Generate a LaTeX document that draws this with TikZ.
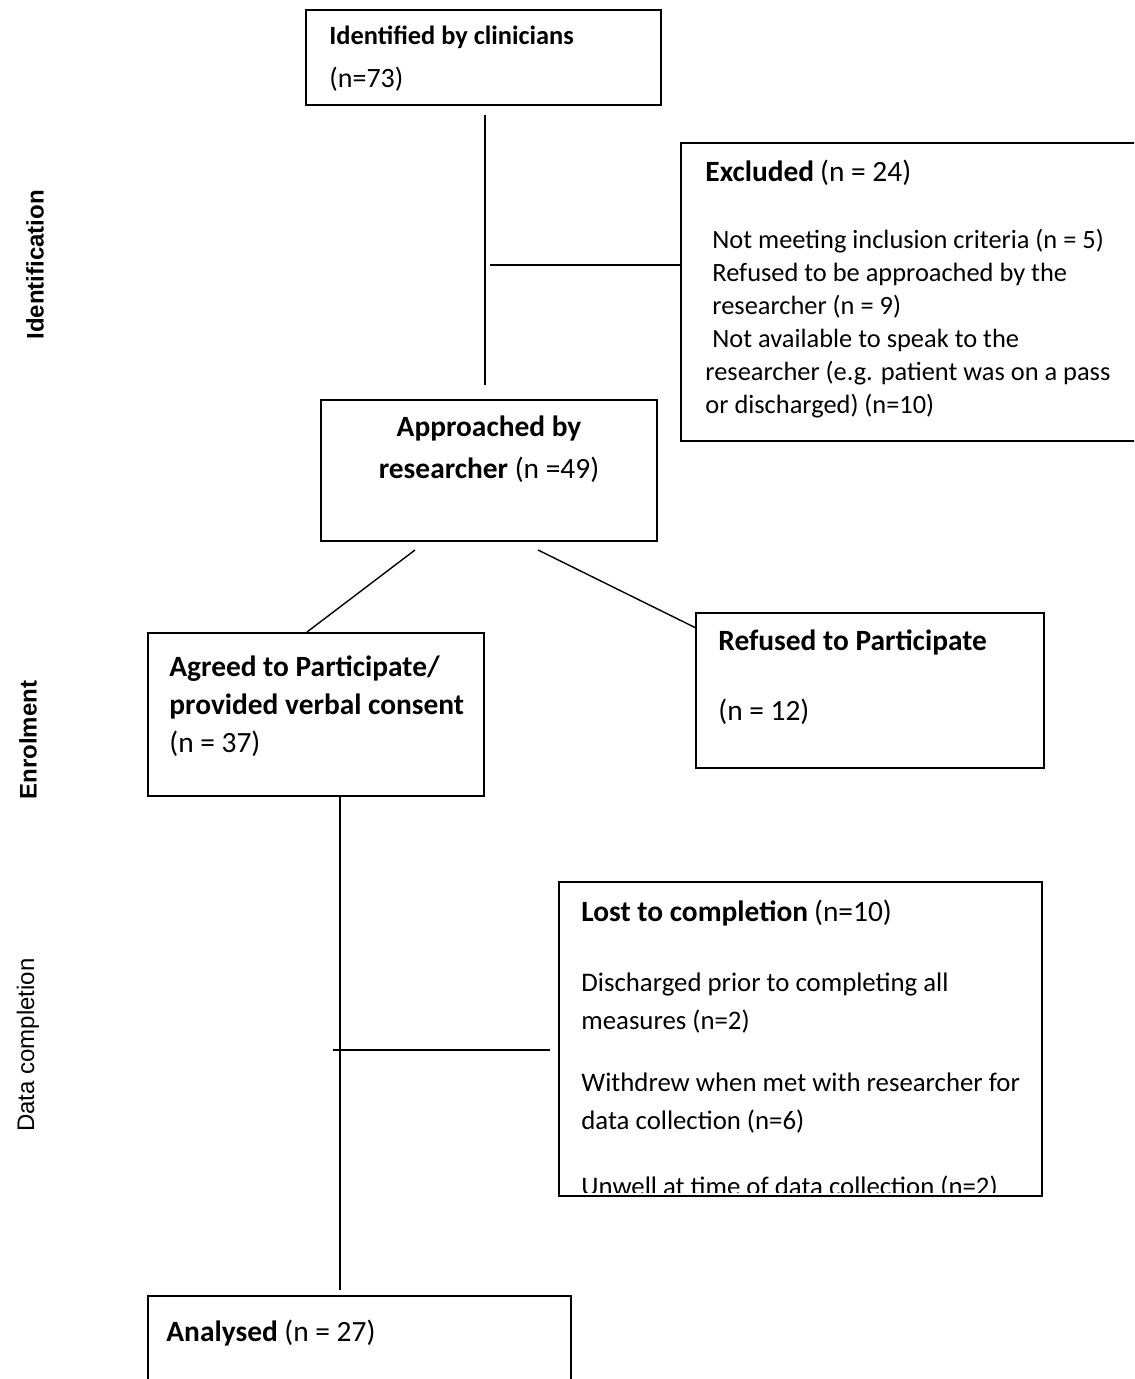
\documentclass[tikz,border=0pt]{standalone}
\usepackage{fontspec}
\setmainfont{Carlito}
\newfontfamily\sidefont{Liberation Sans}
\usepackage{tikz}

\newcommand{\boxhead}[1]{{\fontsize{14.7}{17}\selectfont\bfseries #1}}
\newcommand{\boxcount}[1]{{\fontsize{14.7}{17}\selectfont #1}}

\tikzset{
  box/.style={draw,line width=1.1pt,rectangle,inner sep=0pt},
  txt/.style={anchor=north west,inner sep=0pt,align=left,font=\fontsize{13.2}{#1}\selectfont},
  txt/.default=16.5pt,
  bigtxt/.style={txt,font=\fontsize{14.7}{#1}\selectfont},
  bigtxt/.default=19pt,
  link/.style={line width=0.7pt},
  side/.style={rotate=90,inner sep=0pt,font=\sidefont\fontsize{12}{14}\selectfont}
}

\begin{document}
\begin{tikzpicture}[x=0.5pt,y=-0.5pt]
\useasboundingbox (0,0) rectangle (1134,1379);
\clip (0,0) rectangle (1134,1379);
% boxes
\node (ident) at (483.5,57.5) [box,minimum width=177.5pt,minimum height=47.5pt] {};
\node (excl) at (920.5,292) [box,minimum width=239.5pt,minimum height=149pt] {};
\node (appr) at (489,470.5) [box,minimum width=168pt,minimum height=70.5pt] {};
\node (agree) at (316,714.5) [box,minimum width=168pt,minimum height=81.5pt] {};
\node (refuse) at (870,690.5) [box,minimum width=174pt,minimum height=77.5pt] {};
\node (lost) at (800.5,1039) [box,minimum width=241.5pt,minimum height=157pt] {};
\node (anal) at (359.5,1358) [box,minimum width=211.5pt,minimum height=62pt] {};
%
% box texts
\node (identtxt) at (329,26) [txt=21.5pt,font=\fontsize{13.2}{21.5pt}\selectfont] {\textbf{Identified by clinicians}\\{\fontsize{14}{16}\selectfont(n=73)}};
\node (excltxt) at (705,159.5) [txt] {\boxhead{Excluded} \boxcount{(n = 24)}\\[17pt]
  \hspace*{3.5pt}Not meeting inclusion criteria (n = 5)\\
  \hspace*{3.5pt}Refused to be approached by the\\
  \hspace*{3.5pt}researcher (n = 9)\\
  \hspace*{3.5pt}Not available to speak to the\\
  researcher (e.g. patient was on a pass\\
  or discharged) (n=10)};
\node (apprtxt) at (489,415.5) [bigtxt=21pt,anchor=north,align=center] {\textbf{Approached by}\\\textbf{researcher} (n =49)};
\node (agreetxt) at (169,655.5) [bigtxt] {\textbf{Agreed to Participate/}\\\textbf{provided verbal consent}\\(n = 37)};
\node (refusetxt) at (718,629.5) [bigtxt=17.5pt] {\textbf{Refused to Participate}\\[17.5pt](n = 12)};
\begin{scope}
\clip (559,882) rectangle (1042,1192);
\node (losttxt) at (581,899.5) [txt=19pt,font=\fontsize{13.4}{19pt}\selectfont] {\boxhead{Lost to completion} \boxcount{(n=10)}\\[16pt]
  Discharged prior to completing all\\
  measures (n=2)\\[12pt]
  Withdrew when met with researcher for\\
  data collection (n=6)\\[13.8pt]
  Unwell at time of data collection (n=2)};
\end{scope}
\node (analtxt) at (166,1319.5) [bigtxt] {\textbf{Analysed} (n = 27)};
%
% connectors
\coordinate (v1) at (485,115);
\coordinate (v2) at (485,385);
\coordinate (b1) at (490,265);
\coordinate (d1) at (415,550);
\coordinate (d2) at (307,632);
\coordinate (d3) at (538,550);
\coordinate (d4) at (696,628);
\coordinate (v3) at (340,1290);
\coordinate (b2) at (333,1050);
\draw [link] (v1) -- (v2);
\draw [link] (b1) -- (b1 -| excl.west);
\draw [link] (d1) -- (d2);
\draw [link] (d3) -- (d4);
\draw [link] (v3 |- agree.south) -- (v3);
\draw [link,shorten >=4pt] (b2) -- (b2 -| lost.west);
%
% stage labels
\node (stage1) at (35,265) [side] {\textbf{Identification}};
\node (stage2) at (28,740) [side] {\textbf{Enrolment}};
\node (stage3) at (28,1045) [side] {Data completion};
\end{tikzpicture}
\end{document}
